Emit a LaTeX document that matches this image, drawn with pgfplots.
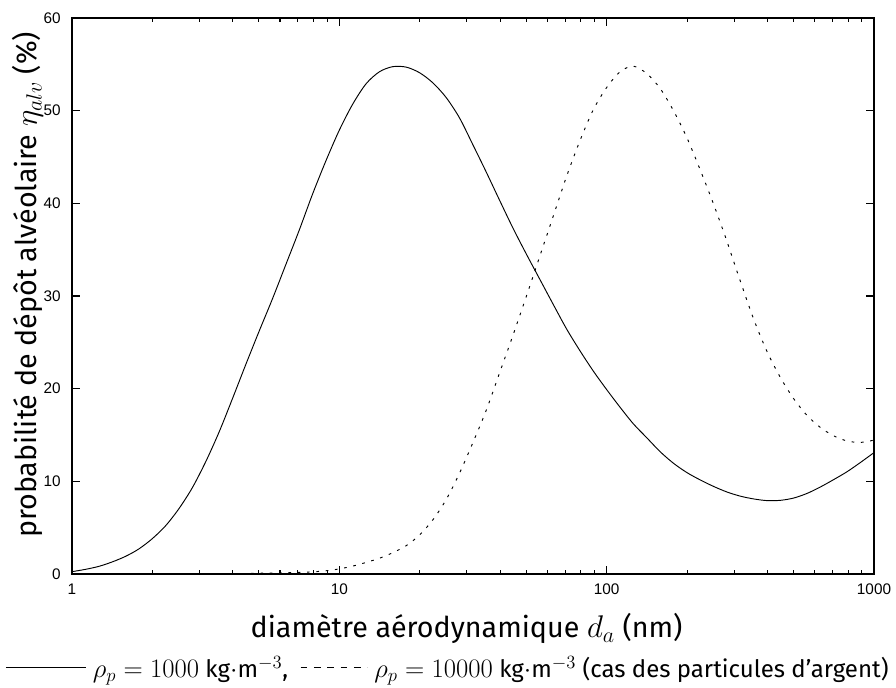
\RequirePackage{fix-cm}
\documentclass[border=0pt]{standalone}
\usepackage{fontspec}
\usepackage{pgfplots}
\pgfplotsset{compat=1.18}
\setmainfont{Fira Sans}
\newfontfamily\tickfont{Liberation Sans}
\DeclareMathSizes{18}{20}{14}{10}
\DeclareMathSizes{21.5}{23.5}{16.5}{12}
\newcommand\lgfont{\fontsize{18}{21}\selectfont}

\begin{document}
\begin{tikzpicture}
  \begin{axis}[
    name=ax,
    scale only axis,
    width=601.5pt, height=417pt,
    xmode=log,
    xmin=1, xmax=1000,
    ymin=0, ymax=60,
    xtick={1,10,100,1000},
    xticklabels={1,10,100,1000},
    ytick={0,10,...,60},
    tick align=inside,
    major tick length=6pt,
    minor tick length=3pt,
    axis line style={line width=1pt},
    every tick/.style={black, line width=0.8pt},
    /pgf/number format/assume math mode=true,
    tick label style={font=\tickfont\fontsize{11.5}{13}\selectfont},
    yticklabel style={xshift=-5pt},
    xticklabel style={yshift=-4pt},
    xlabel={diamètre aérodynamique $d_a$ (nm)},
    ylabel={probabilité de dépôt alvéolaire $\eta_{alv}$ (\%)},
    label style={font=\fontsize{21.5}{25}\selectfont},
    xlabel style={at={(axis description cs:0.492,-0.098)}, anchor=center},
    ylabel style={at={(axis description cs:-0.055,0.52)}, anchor=center},
    legend style={
      at={(axis description cs:-0.0835,-0.169)}, anchor=west,
      draw=none, fill=none, inner sep=0pt,
      legend columns=2,
      /tikz/every odd column/.append style={column sep=3pt},
      /tikz/every even column/.append style={column sep=7pt},
    },
    legend cell align=left,
  ]
    % rho_p = 1000 kg/m3
    \addplot[black, line width=0.7pt, smooth,
      legend image code/.code={\draw[black, line width=0.7pt] (0pt,0pt) -- (60pt,0pt);}]
    coordinates {
      (1,0.25) (1.122,0.5) (1.259,0.82) (1.413,1.3) (1.585,1.9) (1.778,2.7)
      (1.995,3.8) (2.239,5.2) (2.512,7.05) (2.818,9.3) (3.162,12.1)
      (3.548,15.3) (3.981,18.9) (4.467,22.6) (5.012,26.2) (5.623,29.7)
      (6.310,33.4) (7.079,37.1) (7.943,41.0) (8.913,44.6) (10,47.9)
      (11.22,50.7) (12.59,52.9) (14.13,54.2) (15.85,54.75) (17.78,54.7)
      (19.95,54.1) (22.39,53.0) (25.12,51.4) (28.18,49.2) (31.62,46.3)
      (35.48,43.35) (39.81,40.3) (44.67,37.3) (50.12,34.5) (56.23,31.8)
      (63.10,29.1) (70.79,26.45) (79.43,24.1) (89.13,21.9) (100,19.9)
      (112.2,18.0) (125.9,16.2) (141.3,14.7) (158.5,13.2) (177.8,11.95)
      (199.5,10.95) (223.9,10.15) (251.2,9.45) (281.8,8.85) (316.2,8.4)
      (354.8,8.1) (398.1,7.92) (446.7,7.95) (501.2,8.2) (562.3,8.7)
      (631.0,9.4) (707.9,10.2) (794.3,11.05) (891.3,12.05) (1000,13.1)
    };
    \addlegendentry{\lgfont $\rho_p = 1000$ kg$\cdot$m$^{-3}$,}
    % rho_p = 10000 kg/m3 (silver)
    \addplot[black, line width=0.7pt, smooth, dash pattern=on 2pt off 5pt,
      legend image code/.code={\draw[black, line width=0.7pt, dash pattern=on 5pt off 5pt] (0pt,0pt) -- (50pt,0pt);}]
    coordinates {
      (3.981,0) (4.467,0.05) (5.012,0.08) (5.623,0.11) (6.310,0.14)
      (7.079,0.18) (7.943,0.23) (8.913,0.35) (10,0.55) (11.22,0.85)
      (12.59,1.25) (14.13,1.7) (15.85,2.3) (17.78,3.05) (19.95,4.2)
      (22.39,5.85) (25.12,8.05) (28.18,10.9) (31.62,14.2) (35.48,17.7)
      (39.81,21.75) (44.67,25.8) (50.12,30.0) (56.23,34.3) (63.10,38.6)
      (70.79,42.9) (79.43,46.75) (89.13,50.1) (100,52.5) (112.2,54.2)
      (125.9,54.8) (141.3,54.0) (158.5,52.4) (177.8,50.0) (199.5,47.1)
      (223.9,43.6) (251.2,39.9) (281.8,35.9) (316.2,31.6) (354.8,27.5)
      (398.1,24.0) (446.7,21.2) (501.2,18.9) (562.3,17.1) (631.0,15.8)
      (707.9,14.9) (794.3,14.35) (891.3,14.2) (1000,14.45)
    };
    \addlegendentry{\lgfont $\rho_p = 10000$ kg$\cdot$m$^{-3}$ (cas des particules d’argent)}
  \end{axis}
  \pgfresetboundingbox
  \path ([xshift=-54pt,yshift=13.5pt]ax.north west) rectangle ([xshift=16.5pt,yshift=-85.5pt]ax.south east);
\end{tikzpicture}
\end{document}
